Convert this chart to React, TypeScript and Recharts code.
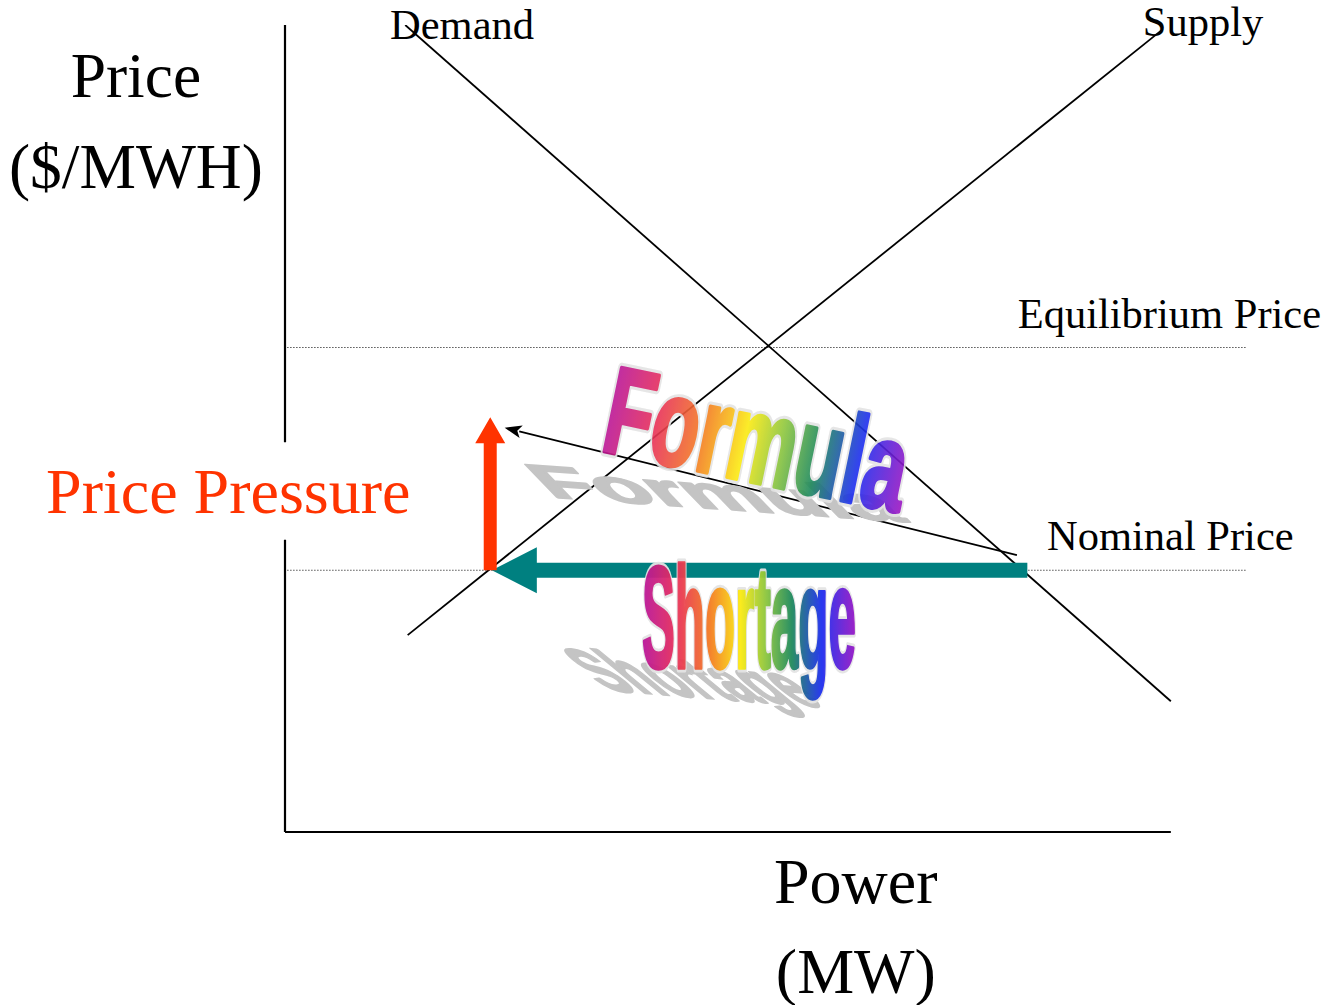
import React from 'react';
import { LineChart, Line, XAxis, YAxis, ReferenceLine, ReferenceDot } from 'recharts';

// ---- data (Power in arbitrary MW units, Price in arbitrary $/MWH units) ----
const demandCurve = [
  { power: 15.0, price: 100.0 },
  { power: 110.5, price: 16.2 },
];
const supplyCurve = [
  { power: 15.3, price: 24.4 },
  { power: 109.4, price: 99.4 },
];
const equilibriumPrice = 60.04;
const nominalPrice = 32.44;
const priceLineEnd = 120;
const powerAxisEnd = 110.5;
const priceAxisEnd = 100;
const priceAxisGap = [36.2, 48.3];
const shortagePower = [92.6, 25.8]; // from -> to, at nominal price
const pressurePrice = [32.44, 51.4]; // from -> to
const pressurePower = 25.6;
const formulaArrow = [
  { power: 91.3, price: 34.3 },
  { power: 27.4, price: 50.1 },
];

const curveNames = ['Demand', 'Supply'];
const priceLineNames = ['Equilibrium Price', 'Nominal Price'];
const yTitle = ['Price', '($/MWH)'];
const xTitle = ['Power', '(MW)'];
const pressureLabel = 'Price Pressure';
const wordArt = ['Formula', 'Shortage'];

// ---- annotation anchors (data units) ----
const annotations = [
  { text: curveNames[0], power: 13.1, price: 98.3, size: 42.5, anchor: 'start', color: '#000' },
  { text: curveNames[1], power: 107.0, price: 98.6, size: 42.5, anchor: 'start', color: '#000' },
  { text: priceLineNames[0], power: 91.4, price: 62.5, size: 42.5, anchor: 'start', color: '#000' },
  { text: priceLineNames[1], power: 95.05, price: 34.9, size: 42.5, anchor: 'start', color: '#000' },
  { text: yTitle[0], power: -18.6, price: 91.1, size: 63.5, anchor: 'middle', color: '#000' },
  { text: yTitle[1], power: -18.6, price: 79.8, size: 63.5, anchor: 'middle', color: '#000' },
  { text: xTitle[0], power: 71.2, price: -8.8, size: 64, anchor: 'middle', color: '#000' },
  { text: xTitle[1], power: 71.2, price: -20.0, size: 64, anchor: 'middle', color: '#000' },
  { text: pressureLabel, power: -29.8, price: 39.5, size: 64, anchor: 'start', color: '#FF3300' },
];
const formulaAnchor = { power: 38.9, price: 47.3 };
const shortageAnchor = { power: 44.4, price: 20.3 };

const SERIF = '"Liberation Serif", "Times New Roman", serif';
const SANS = '"Liberation Sans", Arial, sans-serif';

const rainbow = [
  ['0', '#B8169C'],
  ['0.16', '#E8305A'],
  ['0.32', '#F47E22'],
  ['0.46', '#FBEA12'],
  ['0.58', '#8CC63E'],
  ['0.7', '#1F8A5C'],
  ['0.84', '#1E2EF0'],
  ['1', '#9A18C4'],
];

const arrowShape = (shaft: number, headLen: number, headWidth: number, color: string) => (p: any) => {
  const { x1, y1, x2, y2 } = p;
  const dx = x2 - x1;
  const dy = y2 - y1;
  const len = Math.hypot(dx, dy) || 1;
  const ux = dx / len;
  const uy = dy / len;
  const nx = -uy;
  const ny = ux;
  const bx = x2 - ux * headLen;
  const by = y2 - uy * headLen;
  const pts = [
    [x1 + (nx * shaft) / 2, y1 + (ny * shaft) / 2],
    [bx + (nx * shaft) / 2, by + (ny * shaft) / 2],
    [bx + (nx * headWidth) / 2, by + (ny * headWidth) / 2],
    [x2, y2],
    [bx - (nx * headWidth) / 2, by - (ny * headWidth) / 2],
    [bx - (nx * shaft) / 2, by - (ny * shaft) / 2],
    [x1 - (nx * shaft) / 2, y1 - (ny * shaft) / 2],
  ];
  return <polygon points={pts.map((q) => q.join(',')).join(' ')} fill={color} />;
};

const thinArrowShape = (p: any) => {
  const { x1, y1, x2, y2 } = p;
  const dx = x2 - x1;
  const dy = y2 - y1;
  const len = Math.hypot(dx, dy) || 1;
  const ux = dx / len;
  const uy = dy / len;
  const nx = -uy;
  const ny = ux;
  const headLen = 17;
  const headW = 13;
  const bx = x2 - ux * headLen;
  const by = y2 - uy * headLen;
  return (
    <g>
      <line x1={x1} y1={y1} x2={bx + ux * 2} y2={by + uy * 2} stroke="#000" strokeWidth={1.7} />
      <polygon
        points={`${x2},${y2} ${bx + (nx * headW) / 2},${by + (ny * headW) / 2} ${bx + ux * 4},${by + uy * 4} ${bx - (nx * headW) / 2},${by - (ny * headW) / 2}`}
        fill="#000"
      />
    </g>
  );
};

const FormulaArt = (p: any) => {
  const { cx, cy } = p;
  const common = {
    x: 0,
    y: 0,
    fontFamily: SANS,
    fontWeight: 700,
    fontSize: 124,
    textLength: 306,
    lengthAdjust: 'spacingAndGlyphs',
  } as any;
  return (
    <g>
      <defs>
        <linearGradient id="gFormula" x1="0" y1="0" x2="1" y2="0">
          {rainbow.map(([o, c]) => (
            <stop key={o} offset={o} stopColor={c} />
          ))}
        </linearGradient>
      </defs>
      <g transform={`translate(${cx - 45},${cy + 47}) rotate(4.0) skewX(48) scale(1.17,0.36)`}>
        <text {...common} fill="#C4C4C4" stroke="#C4C4C4" strokeWidth={5} strokeLinejoin="round">
          {wordArt[0]}
        </text>
      </g>
      <g transform={`translate(${cx + 2},${cy}) rotate(11.7)`} opacity={0.9}>
        <text {...common} fill="none" stroke="#E4E4E4" strokeWidth={10} strokeLinejoin="round">
          {wordArt[0]}
        </text>
        <text {...common} fill="url(#gFormula)" stroke="url(#gFormula)" strokeWidth={4} strokeLinejoin="round">
          {wordArt[0]}
        </text>
      </g>
    </g>
  );
};

const ShortageArt = (p: any) => {
  const { cx, cy } = p;
  const common = {
    x: 0,
    y: 0,
    fontFamily: SANS,
    fontWeight: 700,
    fontSize: 144,
    textLength: 214,
    lengthAdjust: 'spacingAndGlyphs',
  } as any;
  return (
    <g>
      <defs>
        <linearGradient id="gShortage" x1="0" y1="0" x2="1" y2="0">
          {rainbow.map(([o, c]) => (
            <stop key={o} offset={o} stopColor={c} />
          ))}
        </linearGradient>
      </defs>
      <g transform={`translate(${cx - 34},${cy + 22}) rotate(4.5) skewX(55) scale(1.03,0.38)`}>
        <text {...common} fill="#C4C4C4" stroke="#C4C4C4" strokeWidth={6} strokeLinejoin="round">
          {wordArt[1]}
        </text>
      </g>
      <g transform={`translate(${cx + 1},${cy})`} opacity={0.95}>
        <text {...common} fill="none" stroke="#E4E4E4" strokeWidth={9} strokeLinejoin="round">
          {wordArt[1]}
        </text>
        <text {...common} fill="url(#gShortage)" stroke="url(#gShortage)" strokeWidth={3.5} strokeLinejoin="round">
          {wordArt[1]}
        </text>
      </g>
    </g>
  );
};

export default function App() {
  return (
    <div style={{ position: 'absolute', left: 0, top: 0, background: '#fff' }}>
      <LineChart width={1327} height={1005} margin={{ top: 25, right: 80, bottom: 173, left: 285 }}>
        <XAxis type="number" dataKey="power" domain={[0, 120]} hide allowDataOverflow />
        <YAxis type="number" dataKey="price" domain={[0, 100]} hide allowDataOverflow />

        {/* axes */}
        <ReferenceLine segment={[{ x: 0, y: 0 }, { x: powerAxisEnd, y: 0 }]} stroke="#000" strokeWidth={2.2} ifOverflow="visible" />
        <ReferenceLine segment={[{ x: 0, y: 0 }, { x: 0, y: priceAxisGap[0] }]} stroke="#000" strokeWidth={2.2} ifOverflow="visible" />
        <ReferenceLine segment={[{ x: 0, y: priceAxisGap[1] }, { x: 0, y: priceAxisEnd }]} stroke="#000" strokeWidth={2.2} ifOverflow="visible" />

        {/* dotted price lines */}
        <ReferenceLine segment={[{ x: 0.3, y: equilibriumPrice }, { x: priceLineEnd, y: equilibriumPrice }]} stroke="#000" strokeWidth={1.1} strokeDasharray="1 2" ifOverflow="visible" />
        <ReferenceLine segment={[{ x: 0.3, y: nominalPrice }, { x: priceLineEnd, y: nominalPrice }]} stroke="#000" strokeWidth={1.1} strokeDasharray="1 2" ifOverflow="visible" />

        {/* curves */}
        <Line data={demandCurve} dataKey="price" type="linear" stroke="#000" strokeWidth={1.8} dot={false} activeDot={false} isAnimationActive={false} />
        <Line data={supplyCurve} dataKey="price" type="linear" stroke="#000" strokeWidth={1.8} dot={false} activeDot={false} isAnimationActive={false} />

        {/* shortage arrow (teal) */}
        <ReferenceLine
          segment={[{ x: shortagePower[0], y: nominalPrice }, { x: shortagePower[1], y: nominalPrice }]}
          ifOverflow="visible"
          shape={arrowShape(15, 45, 46, '#008080')}
        />
        {/* price pressure arrow (red) */}
        <ReferenceLine
          segment={[{ x: pressurePower, y: pressurePrice[0] }, { x: pressurePower, y: pressurePrice[1] }]}
          ifOverflow="visible"
          shape={arrowShape(13, 26, 30, '#FF3300')}
        />
        {/* formula arrow (thin black) */}
        <ReferenceLine
          segment={[{ x: formulaArrow[0].power, y: formulaArrow[0].price }, { x: formulaArrow[1].power, y: formulaArrow[1].price }]}
          ifOverflow="visible"
          shape={thinArrowShape}
        />

        {/* word art */}
        <ReferenceDot x={formulaAnchor.power} y={formulaAnchor.price} r={0} ifOverflow="visible" shape={FormulaArt} />
        <ReferenceDot x={shortageAnchor.power} y={shortageAnchor.price} r={0} ifOverflow="visible" shape={ShortageArt} />

        {/* labels */}
        {annotations.map((a) => (
          <ReferenceDot
            key={a.text}
            x={a.power}
            y={a.price}
            r={0}
            ifOverflow="visible"
            shape={(p: any) => (
              <text x={p.cx} y={p.cy} textAnchor={a.anchor as any} fontFamily={SERIF} fontSize={a.size} fill={a.color}>
                {a.text}
              </text>
            )}
          />
        ))}
      </LineChart>
    </div>
  );
}
